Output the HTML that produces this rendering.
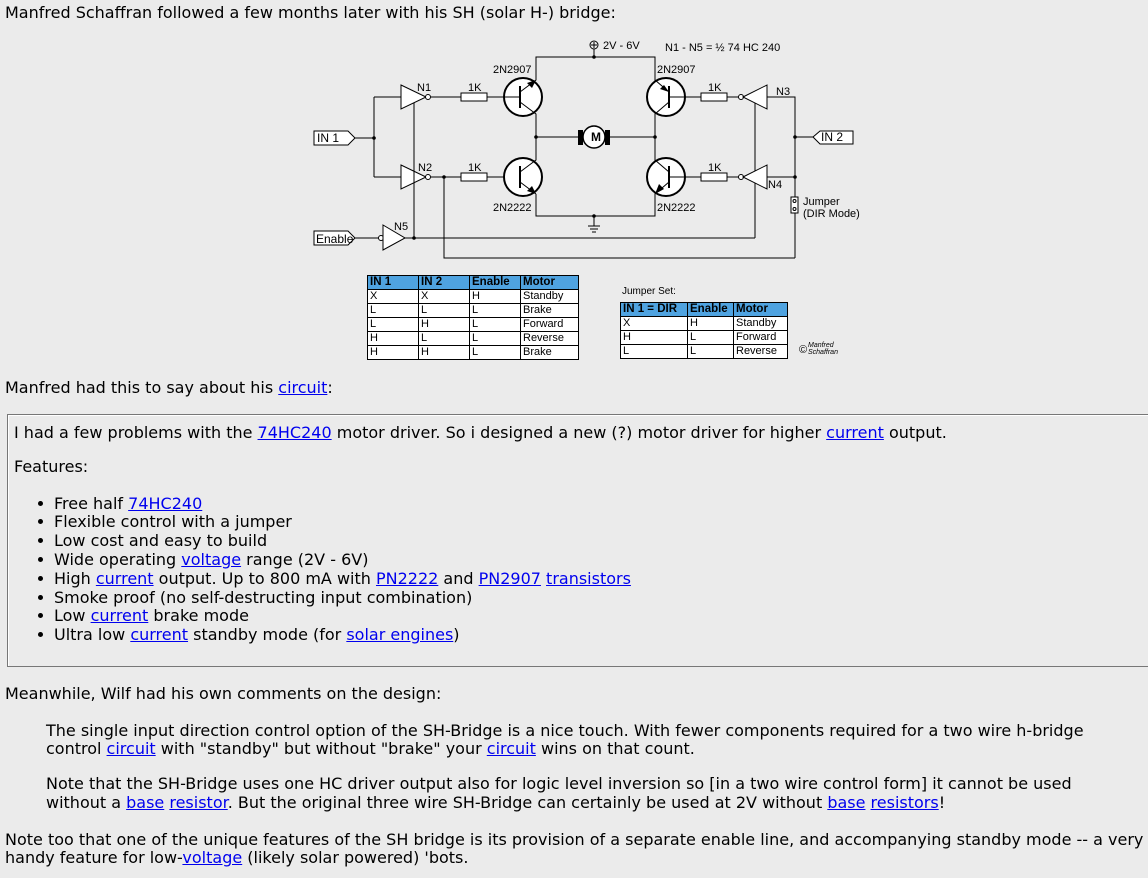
<!DOCTYPE html>
<html><head><meta charset="utf-8"><style>
html,body{margin:0;padding:0;width:1148px;height:878px;overflow:hidden;background:#ebebeb;font-family:"DejaVu Sans","Liberation Sans",sans-serif;font-size:16px;color:#000}
.l{position:absolute;white-space:nowrap;line-height:19px}
a{color:#0000ee;text-decoration:underline}
.box{position:absolute;left:7px;top:414px;width:1140px;height:251px;border:1px solid #777;box-shadow:inset 1px 1px 0 #fff}
.bul{position:absolute;left:38px;width:5px;height:5px;border-radius:50%;background:#000}
table{position:absolute;border-collapse:collapse;font-family:"Liberation Sans",sans-serif;font-size:11px;background:#fff}
td{border:1px solid #000;padding:0 2px;height:13px;line-height:13px}
th{border:1px solid #000;padding:0 2px;height:13px;line-height:13px;background:#4fa3e0;text-align:left;font-weight:bold;font-size:11.5px}
</style></head><body>
<div class="l" style="left:5px;top:3px">Manfred Schaffran followed a few months later with his SH (solar H-) bridge:</div>

<svg style="position:absolute;left:0;top:0" width="1148" height="380" font-family="Liberation Sans, sans-serif" font-size="11">
<g stroke="#000" stroke-width="1" fill="none">
<!-- IN1 tag -->
<path d="M314 131 H348 L355 138 L348 145 H314 Z" fill="#fff"/>
<path d="M355 138 H374 M374 97 V177 M374 97 H401 M374 177 H401"/>
<path d="M314 231 H348 L355 238 L348 245 H314 Z" fill="#fff"/>
<path d="M355 238 H379"/>
<!-- N1 -->
<path d="M401 85 L426 97 L401 109 Z" fill="#fff"/>
<circle cx="428" cy="97" r="2.5" fill="#fff"/>
<path d="M431 97 H461"/>
<rect x="461" y="93" width="26" height="8" fill="#fff"/>
<path d="M487 97 H503"/>
<!-- N2 -->
<path d="M401 165 L426 177 L401 189 Z" fill="#fff"/>
<circle cx="428" cy="177" r="2.5" fill="#fff"/>
<path d="M431 177 H461"/>
<rect x="461" y="173" width="26" height="8" fill="#fff"/>
<path d="M487 177 H503"/>
<path d="M444 177 V258 H795"/>
<!-- N5 -->
<circle cx="381" cy="238" r="2.5" fill="#fff"/>
<path d="M383 225 L405 238 L383 250 Z" fill="#fff"/>
<path d="M405 238 H755 M414 103 V238 M755 103 V238"/>
<!-- transistors -->
<g stroke-width="2">
<circle cx="523" cy="97" r="19" fill="#fff"/>
<circle cx="523" cy="177" r="19" fill="#fff"/>
<circle cx="666" cy="97" r="19" fill="#fff"/>
<circle cx="666" cy="177" r="19" fill="#fff"/>
<path d="M520 86 V108 M520 166 V188 M669 86 V108 M669 166 V188"/>
</g>
<path d="M503 97 H520 M520 92 L536 80 V57 H655 V80 L669 92 M520 102 L536 114 V137 M520 172 L536 160 V137 M536 194 V216 H655 V194 L669 182 M520 182 L536 194 M669 102 L655 114 V160 L669 172"/>
<path d="M669 97 H701 M669 177 H701"/>
<rect x="701" y="93" width="26" height="8" fill="#fff"/>
<rect x="701" y="173" width="26" height="8" fill="#fff"/>
<path d="M727 97 H739 M727 177 H739"/>
<!-- N3 N4 -->
<circle cx="741" cy="97" r="2.5" fill="#fff"/>
<circle cx="741" cy="177" r="2.5" fill="#fff"/>
<path d="M743 97 L767 85 V109 Z" fill="#fff"/>
<path d="M743 177 L767 165 V189 Z" fill="#fff"/>
<path d="M767 97 H795 V177 H767 M795 137 H813 M795 177 V197 M795 213 V258"/>
<path d="M813 137 L820 131 H853 V144 H820 Z" fill="#fff"/>
<rect x="791" y="197" width="7" height="16" fill="#fff"/>
<circle cx="794.5" cy="201" r="1.5"/><circle cx="794.5" cy="209" r="1.5"/>
<!-- motor -->
<path d="M536 137 H578 M610 137 H655"/>
<circle cx="594" cy="137" r="11" fill="#fff" stroke-width="1.5"/>
<!-- power/gnd -->
<path d="M594 57 V49 M594 216 V226 M588 226 H600 M590 229 H598 M592 232 H596"/>
<circle cx="594" cy="45" r="4"/><path d="M591 45 H597 M594 42 V48"/>
</g>
<g fill="#000">
<rect x="578" y="130" width="5" height="15"/><rect x="605" y="130" width="5" height="15"/>
<circle cx="374" cy="138" r="1.8"/><circle cx="444" cy="177" r="1.8"/><circle cx="414" cy="238" r="1.8"/>
<circle cx="536" cy="137" r="1.8"/><circle cx="655" cy="137" r="1.8"/><circle cx="594" cy="57" r="1.8"/><circle cx="594" cy="216" r="1.8"/>
<circle cx="795" cy="137" r="1.8"/><circle cx="795" cy="177" r="1.8"/>
<path d="M536 80 L527 83 L532 88 Z"/><path d="M536 194 L527 191 L532 186 Z"/>
<path d="M669 92 L660 89 L664 85 Z" transform="rotate(0)"/><path d="M655 194 L659 184 L664 189 Z"/>
<text x="317" y="142" font-size="12">IN 1</text>
<text x="316" y="243" font-size="12">Enable</text>
<text x="821" y="141" font-size="12">IN 2</text>
<text x="417" y="91">N1</text><text x="418" y="171">N2</text><text x="394" y="230">N5</text>
<text x="776" y="95">N3</text><text x="768" y="188">N4</text>
<text x="468" y="91">1K</text><text x="468" y="171">1K</text><text x="708" y="91">1K</text><text x="708" y="171">1K</text>
<text x="493" y="73">2N2907</text><text x="493" y="211">2N2222</text>
<text x="657" y="73">2N2907</text><text x="657" y="211">2N2222</text>
<text x="603" y="49">2V - 6V</text>
<text x="665" y="51">N1 - N5 = ½ 74 HC 240</text>
<text x="803" y="205">Jumper</text><text x="803" y="217">(DIR Mode)</text>
<text x="591" y="141" font-weight="bold" font-size="12">M</text>
<text x="622" y="294" font-size="10">Jumper Set:</text>
<text x="799" y="353" font-size="11">©</text>
<text x="808" y="347" font-size="7" font-style="italic">Manfred</text>
<text x="808" y="354" font-size="7" font-style="italic">Schaffran</text>
</g>
</svg>

<table style="left:367px;top:275px;width:212px">
<tr><th style="width:46px">IN 1</th><th style="width:46px">IN 2</th><th style="width:46px">Enable</th><th>Motor</th></tr>
<tr><td>X</td><td>X</td><td>H</td><td>Standby</td></tr>
<tr><td>L</td><td>L</td><td>L</td><td>Brake</td></tr>
<tr><td>L</td><td>H</td><td>L</td><td>Forward</td></tr>
<tr><td>H</td><td>L</td><td>L</td><td>Reverse</td></tr>
<tr><td>H</td><td>H</td><td>L</td><td>Brake</td></tr>
</table>
<table style="left:620px;top:302px;width:168px">
<tr><th style="width:62px">IN 1 = DIR</th><th style="width:41px">Enable</th><th>Motor</th></tr>
<tr><td>X</td><td>H</td><td>Standby</td></tr>
<tr><td>H</td><td>L</td><td>Forward</td></tr>
<tr><td>L</td><td>L</td><td>Reverse</td></tr>
</table>

<div class="l" style="left:5px;top:378px">Manfred had this to say about his <a>circuit</a>:</div>
<div class="box"></div>
<div class="l" style="left:14px;top:423px">I had a few problems with the <a>74HC240</a> motor driver. So i designed a new (?) motor driver for higher <a>current</a> output.</div>
<div class="l" style="left:14px;top:457px">Features:</div>
<div class="bul" style="top:501px"></div><div class="l" style="left:54px;top:494px">Free half <a>74HC240</a></div>
<div class="bul" style="top:519px"></div><div class="l" style="left:54px;top:512px">Flexible control with a jumper</div>
<div class="bul" style="top:538px"></div><div class="l" style="left:54px;top:531px">Low cost and easy to build</div>
<div class="bul" style="top:557px"></div><div class="l" style="left:54px;top:550px">Wide operating <a>voltage</a> range (2V - 6V)</div>
<div class="bul" style="top:576px"></div><div class="l" style="left:54px;top:569px">High <a>current</a> output. Up to 800 mA with <a>PN2222</a> and <a>PN2907</a> <a>transistors</a></div>
<div class="bul" style="top:595px"></div><div class="l" style="left:54px;top:588px">Smoke proof (no self-destructing input combination)</div>
<div class="bul" style="top:613px"></div><div class="l" style="left:54px;top:606px">Low <a>current</a> brake mode</div>
<div class="bul" style="top:632px"></div><div class="l" style="left:54px;top:625px">Ultra low <a>current</a> standby mode (for <a>solar engines</a>)</div>

<div class="l" style="left:5px;top:684px">Meanwhile, Wilf had his own comments on the design:</div>
<div class="l" style="left:46px;top:721px">The single input direction control option of the SH-Bridge is a nice touch. With fewer components required for a two wire h-bridge</div>
<div class="l" style="left:46px;top:739px">control <a>circuit</a> with "standby" but without "brake" your <a>circuit</a> wins on that count.</div>
<div class="l" style="left:46px;top:774px">Note that the SH-Bridge uses one HC driver output also for logic level inversion so [in a two wire control form] it cannot be used</div>
<div class="l" style="left:46px;top:793px">without a <a>base</a> <a>resistor</a>. But the original three wire SH-Bridge can certainly be used at 2V without <a>base</a> <a>resistors</a>!</div>
<div class="l" style="left:5px;top:830px">Note too that one of the unique features of the SH bridge is its provision of a separate enable line, and accompanying standby mode -- a very</div>
<div class="l" style="left:5px;top:848px">handy feature for low-<a>voltage</a> (likely solar powered) 'bots.</div>
</body></html>
